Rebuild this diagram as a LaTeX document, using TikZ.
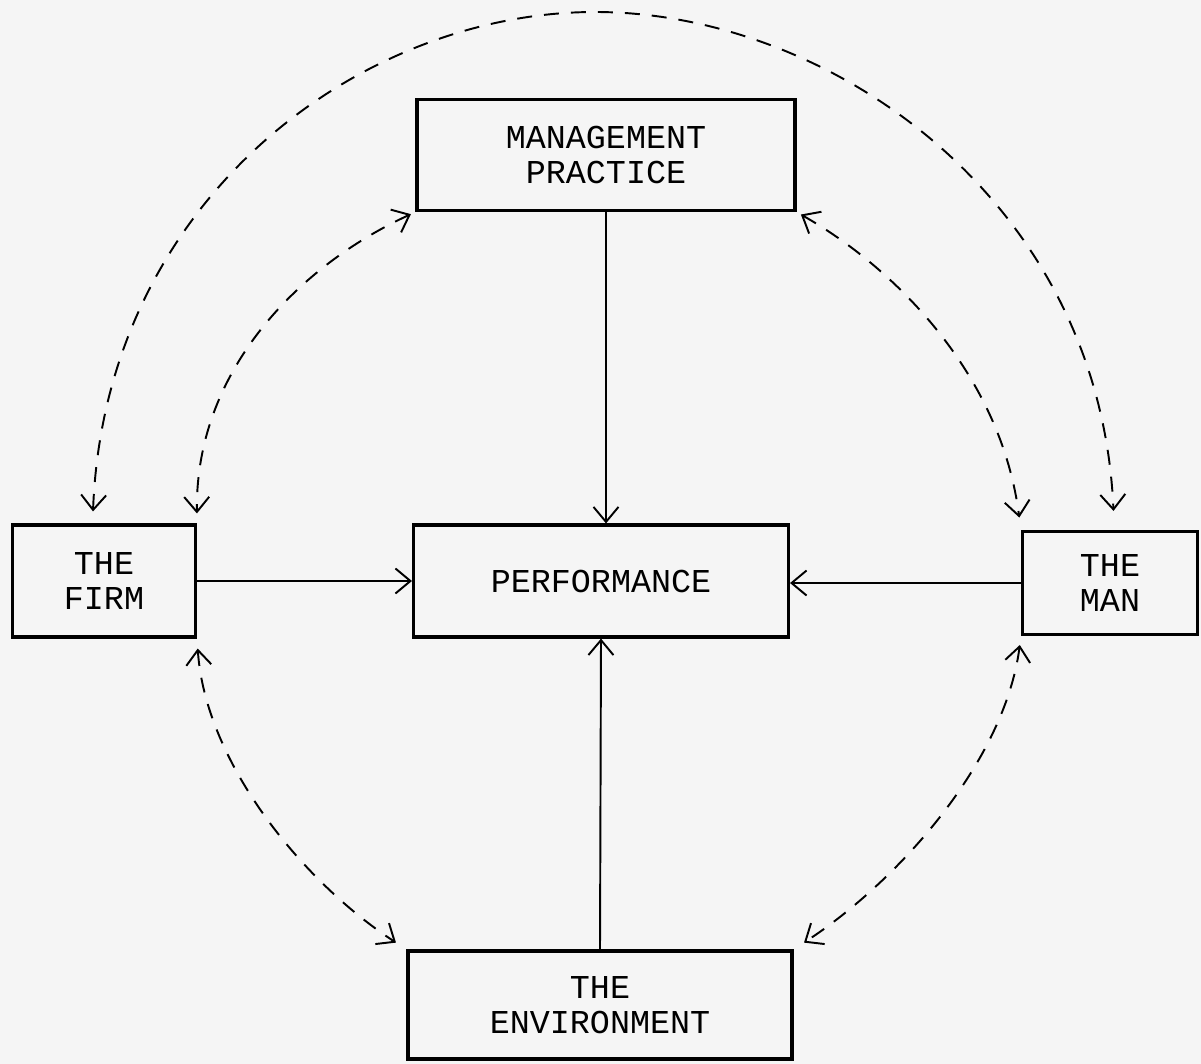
\documentclass[tikz,border=0pt]{standalone}
\usepackage{fontspec}
\setmonofont{Liberation Mono}
\usetikzlibrary{arrows.meta}

\begin{document}
\begin{tikzpicture}[x=0.02cm, y=-0.02cm, line width=1.1pt, >={Straight Barb[length=3mm,width=5mm]},
        factor/.style = {draw, line width=1.8pt, inner sep=0pt, align=center, font=\ttfamily\fontsize{19}{20}\selectfont},
        link/.style = {dash pattern=on 3mm off 2.4mm}]
        \fill[black!4] (0,0) rectangle (1201,1064);
        \useasboundingbox (0,0) rectangle (1201,1064);

        \node[factor, minimum width=7.56cm, minimum height=2.22cm] (mp) at (606,155) {MANAGEMENT\\PRACTICE};
        \node[factor, minimum width=3.66cm, minimum height=2.24cm] (firm) at (104,581) {THE\\FIRM};
        \node[factor, minimum width=7.5cm, minimum height=2.24cm] (perf) at (601,581) {PERFORMANCE};
        \node[factor, minimum width=3.5cm, minimum height=2.06cm] (man) at (1110,583) {THE\\MAN};
        \node[factor, minimum width=7.68cm, minimum height=2.16cm] (env) at (600,1005) {THE\\ENVIRONMENT};

        % solid influences on performance
        \draw[->] (mp.south) -- (mp.south |- perf.north);
        \draw[->] (firm.east) -- (perf.west);
        \draw[->] (man.west) -- (man.west -| perf.east);
        \draw[->] (env.north) -- (perf.south);

        % dashed interactions
        \draw[link, <->] ([xshift=-0.22cm, yshift=0.24cm]firm.north) .. controls (105,200) and (360,12) .. (595,12)
            .. controls (830,12) and (1100,200) .. ([xshift=0.07cm, yshift=0.38cm]man.north);
        \draw[link, <->, shorten <=0.1cm, shorten >=0.2cm] (mp.south west) .. controls (300,265) and (195,370) .. (firm.north east);
        \draw[link, <->, shorten <=0.1cm, shorten >=0.25cm] (mp.south east) .. controls (890,265) and (1000,370) .. (man.north west);
        \draw[link, <->, shorten <=0.2cm, shorten >=0.25cm] (firm.south east) .. controls (205,760) and (300,880) .. (env.north west);
        \draw[link, <->, shorten <=0.18cm, shorten >=0.25cm] (man.south west) .. controls (1005,760) and (900,880) .. (env.north east);
\end{tikzpicture}
\end{document}
